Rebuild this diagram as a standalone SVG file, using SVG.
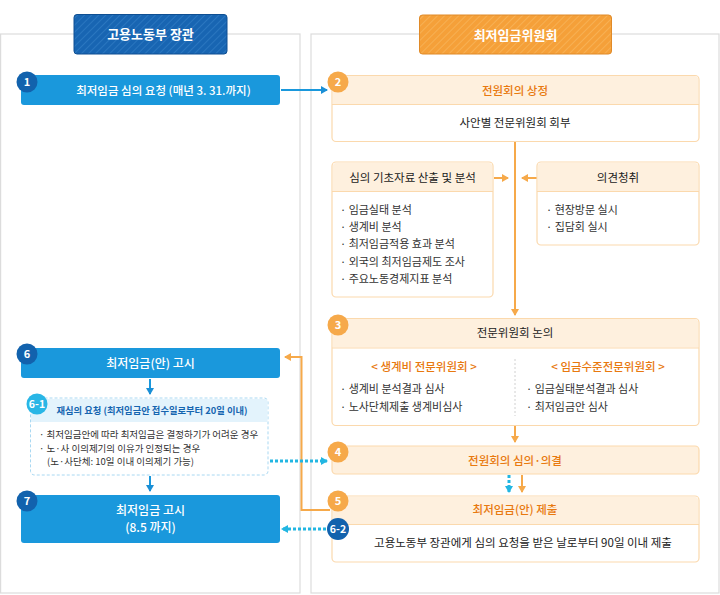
<svg xmlns="http://www.w3.org/2000/svg" width="720" height="595" viewBox="0 0 720 595">
<style>
text{font-family:"Noto Sans CJK KR","Noto Sans",sans-serif;}
.hw{fill:#fff;font-size:13px;font-weight:bold;text-anchor:middle;}
.bt{fill:#fff;font-size:12px;font-weight:500;text-anchor:middle;}
.ot{fill:#e8790f;font-size:11.5px;font-weight:500;text-anchor:middle;}
.kt{fill:#222;font-size:11.5px;text-anchor:middle;}
.li{fill:#333;font-size:11px;}
.sm{fill:#333;font-size:9.5px;}
.bd{fill:#fff;font-size:11px;font-weight:bold;text-anchor:middle;}
.panel{fill:#fff;stroke:#dcdcdc;stroke-width:1.2;}
.blue{fill:#1a98dc;}
.dark{fill:#1262ad;}
.ob{fill:#f6a94a;}
.ohead{fill:#fef0de;}
.obox{fill:#fff;stroke:#fbd9ad;stroke-width:1.2;}
.osep{stroke:#fbd9ad;stroke-width:1.2;}
.oline{fill:none;stroke:#f6a94a;stroke-width:2;}
.bline{fill:none;stroke:#1a98dc;stroke-width:2;}
.cdot{fill:none;stroke:#22b6e2;stroke-width:3;stroke-dasharray:3 2;}
</style>
<defs>
<pattern id="hb" width="5" height="5" patternUnits="userSpaceOnUse" patternTransform="rotate(45)">
<rect width="5" height="5" fill="#1865b2"/>
<line x1="0" y1="0" x2="0" y2="5" stroke="#2f7cc4" stroke-width="1.5"/>
</pattern>
<pattern id="ho" width="5" height="5" patternUnits="userSpaceOnUse" patternTransform="rotate(45)">
<rect width="5" height="5" fill="#f5a039"/>
<line x1="0" y1="0" x2="0" y2="5" stroke="#f8b65c" stroke-width="1.5"/>
</pattern>
<marker id="ao" markerWidth="8" markerHeight="8" refX="6" refY="4" orient="auto" markerUnits="userSpaceOnUse">
<path d="M0,0 L7,4 L0,8 z" fill="#f6a94a"/>
</marker>
<marker id="ab" markerWidth="8" markerHeight="8" refX="6" refY="4" orient="auto" markerUnits="userSpaceOnUse">
<path d="M0,0 L7,4 L0,8 z" fill="#1a8fd6"/>
</marker>
<marker id="ac" markerWidth="8" markerHeight="8" refX="6" refY="4" orient="auto" markerUnits="userSpaceOnUse">
<path d="M0,0 L7,4 L0,8 z" fill="#22b6e2"/>
</marker>
</defs>
<rect width="720" height="595" fill="#fff"/>

<g id="panels">
<rect class="panel" x="0.6" y="34" width="299.4" height="559"/>
<rect class="panel" x="311" y="34" width="408" height="559"/>
</g>

<g id="header-left">
<rect x="74" y="14.5" width="153" height="39.5" rx="3" fill="url(#hb)" stroke="#0f4f92" stroke-width="1"/>
<text class="hw" x="150.5" y="39">고용노동부 장관</text>
</g>
<g id="header-right">
<rect x="419.5" y="15" width="192" height="39" rx="3" fill="url(#ho)" stroke="#e08a28" stroke-width="1"/>
<text class="hw" x="515.5" y="39.5">최저임금위원회</text>
</g>

<g id="connectors">
<line class="bline" x1="281" y1="90" x2="327" y2="90" marker-end="url(#ab)"/>
<line class="oline" x1="515" y1="142" x2="515" y2="315" marker-end="url(#ao)"/>
<line class="oline" x1="494" y1="178" x2="508" y2="178" marker-end="url(#ao)"/>
<line class="oline" x1="537" y1="178" x2="522" y2="178" marker-end="url(#ao)"/>
<line class="oline" x1="515" y1="426" x2="515" y2="442" marker-end="url(#ao)"/>
<line class="cdot" x1="509" y1="475" x2="509" y2="492" marker-end="url(#ac)"/>
<line class="oline" x1="522" y1="475" x2="522" y2="492" marker-end="url(#ao)"/>
<polyline class="oline" points="330,510 301.5,510 301.5,357 285,357" marker-end="url(#ao)"/>
<line class="bline" x1="150" y1="379" x2="150" y2="394" marker-end="url(#ab)"/>
<line class="bline" x1="150" y1="476" x2="150" y2="491" marker-end="url(#ab)"/>
<line class="cdot" x1="270" y1="461" x2="327" y2="461" marker-end="url(#ac)"/>
<line class="cdot" x1="326" y1="529" x2="282" y2="529" marker-end="url(#ac)"/>
</g>

<g id="node1">
<rect class="blue" x="21" y="75" width="259" height="30" rx="3"/>
<circle class="dark" cx="27" cy="82" r="10.5"/>
<text class="bd" x="27" y="86">1</text>
<text class="bt" x="163.5" y="94.5" style="font-size:11.5px">최저임금 심의 요청 (매년 3. 31.까지)</text>
</g>

<g id="node2">
<rect class="obox" x="332" y="75.5" width="367" height="66" rx="4"/>
<path class="ohead" d="M333,104 V79 a3,3 0 0 1 3,-3 H695 a3,3 0 0 1 3,3 V104 z"/>
<line class="osep" x1="332" y1="104.5" x2="699" y2="104.5"/>
<circle class="ob" cx="338" cy="82" r="10.5"/>
<text class="bd" x="338" y="86">2</text>
<text class="ot" x="515" y="95">전원회의 상정</text>
<text class="kt" x="515" y="127">사안별 전문위원회 회부</text>
</g>

<g id="node-data">
<rect class="obox" x="332" y="162" width="161" height="135" rx="4"/>
<path class="ohead" d="M333,191 V166 a3,3 0 0 1 3,-3 H489 a3,3 0 0 1 3,3 V191 z"/>
<line class="osep" x1="332" y1="191.5" x2="493" y2="191.5"/>
<text class="kt" x="412.5" y="181.5">심의 기초자료 산출 및 분석</text>
<text class="li" x="340" y="214">· 임금실태 분석</text>
<text class="li" x="340" y="231">· 생계비 분석</text>
<text class="li" x="340" y="248">· 최저임금적용 효과 분석</text>
<text class="li" x="340" y="265.5">· 외국의 최저임금제도 조사</text>
<text class="li" x="340" y="283">· 주요노동경제지표 분석</text>
</g>

<g id="node-opinion">
<rect class="obox" x="537" y="162" width="162" height="83" rx="4"/>
<path class="ohead" d="M538,191 V166 a3,3 0 0 1 3,-3 H695 a3,3 0 0 1 3,3 V191 z"/>
<line class="osep" x1="537" y1="191.5" x2="699" y2="191.5"/>
<text class="kt" x="618" y="181.5">의견청취</text>
<text class="li" x="546" y="214">· 현장방문 실시</text>
<text class="li" x="546" y="231">· 집담회 실시</text>
</g>

<g id="node3">
<rect class="obox" x="332" y="318.5" width="367" height="107" rx="4"/>
<path class="ohead" d="M333,347.5 V322 a3,3 0 0 1 3,-3 H695 a3,3 0 0 1 3,3 V347.5 z"/>
<line class="osep" x1="332" y1="348" x2="699" y2="348"/>
<circle class="ob" cx="338" cy="325" r="10.5"/>
<text class="bd" x="338" y="329">3</text>
<text class="kt" x="515" y="337">전문위원회 논의</text>
<line x1="515" y1="359" x2="515" y2="416" stroke="#d0d0d0" stroke-width="1" stroke-dasharray="2 2"/>
<text class="ot" x="424" y="371">&lt; 생계비 전문위원회 &gt;</text>
<text class="ot" x="608" y="371">&lt; 임금수준전문위원회 &gt;</text>
<text class="li" x="340" y="393">· 생계비 분석결과 심사</text>
<text class="li" x="340" y="411">· 노사단체제출 생계비심사</text>
<text class="li" x="526" y="393">· 임금실태분석결과 심사</text>
<text class="li" x="526" y="411">· 최저임금안 심사</text>
</g>

<g id="node4">
<rect x="332" y="446" width="367" height="28" rx="4" fill="#fef0de" stroke="#fbd9ad" stroke-width="1.2"/>
<circle class="ob" cx="338" cy="452" r="10.5"/>
<text class="bd" x="338" y="456">4</text>
<text class="ot" x="515" y="465">전원회의 심의·의결</text>
</g>

<g id="node5">
<rect class="obox" x="332" y="496" width="367" height="66" rx="4"/>
<path class="ohead" d="M333,524 V500 a3,3 0 0 1 3,-3 H695 a3,3 0 0 1 3,3 V524 z"/>
<line class="osep" x1="332" y1="524.5" x2="699" y2="524.5"/>
<circle class="ob" cx="338" cy="501" r="10.5"/>
<text class="bd" x="338" y="505">5</text>
<text class="ot" x="515" y="513.5">최저임금(안) 제출</text>
<text class="kt" x="523" y="547">고용노동부 장관에게 심의 요청을 받은 날로부터 90일 이내 제출</text>
</g>

<g id="node6-2">
<circle class="dark" cx="338" cy="529" r="11"/>
<text class="bd" x="338" y="533" style="font-size:10.5px">6-2</text>
</g>

<g id="node6">
<rect class="blue" x="21" y="348" width="259" height="30" rx="3"/>
<circle class="dark" cx="27" cy="354" r="10.5"/>
<text class="bd" x="27" y="358">6</text>
<text class="bt" x="150.5" y="367.5">최저임금(안) 고시</text>
</g>

<g id="node6-1">
<rect x="30.5" y="398" width="237.5" height="77" rx="4" fill="#fff" stroke="#a9d8f2" stroke-width="1" stroke-dasharray="3 2"/>
<path d="M31,422 V402 a3,3 0 0 1 3,-3 H264.5 a3,3 0 0 1 3,3 V422 z" fill="#e3f3fc"/>
<circle cx="37" cy="404" r="10.5" fill="#29b6e6"/>
<text class="bd" x="37" y="408" style="font-size:10.5px">6-1</text>
<text x="152" y="414" style="fill:#1565b0;font-size:9.3px;font-weight:bold;text-anchor:middle">재심의 요청 (최저임금안 접수일로부터 20일 이내)</text>
<text class="sm" x="39" y="438">·  최저임금안에 따라 최저임금은 결정하기가 어려운 경우</text>
<text class="sm" x="39" y="452">·  노·사 이의제기의 이유가 인정되는 경우</text>
<text class="sm" x="47" y="465">(노·사단체: 10일 이내 이의제기 가능)</text>
</g>

<g id="node7">
<rect class="blue" x="21" y="495" width="259" height="48" rx="3"/>
<circle class="dark" cx="27" cy="501" r="10.5"/>
<text class="bd" x="27" y="505">7</text>
<text class="bt" x="150.5" y="515">최저임금 고시</text>
<text class="bt" x="150.5" y="531.5">(8.5 까지)</text>
</g>
</svg>
